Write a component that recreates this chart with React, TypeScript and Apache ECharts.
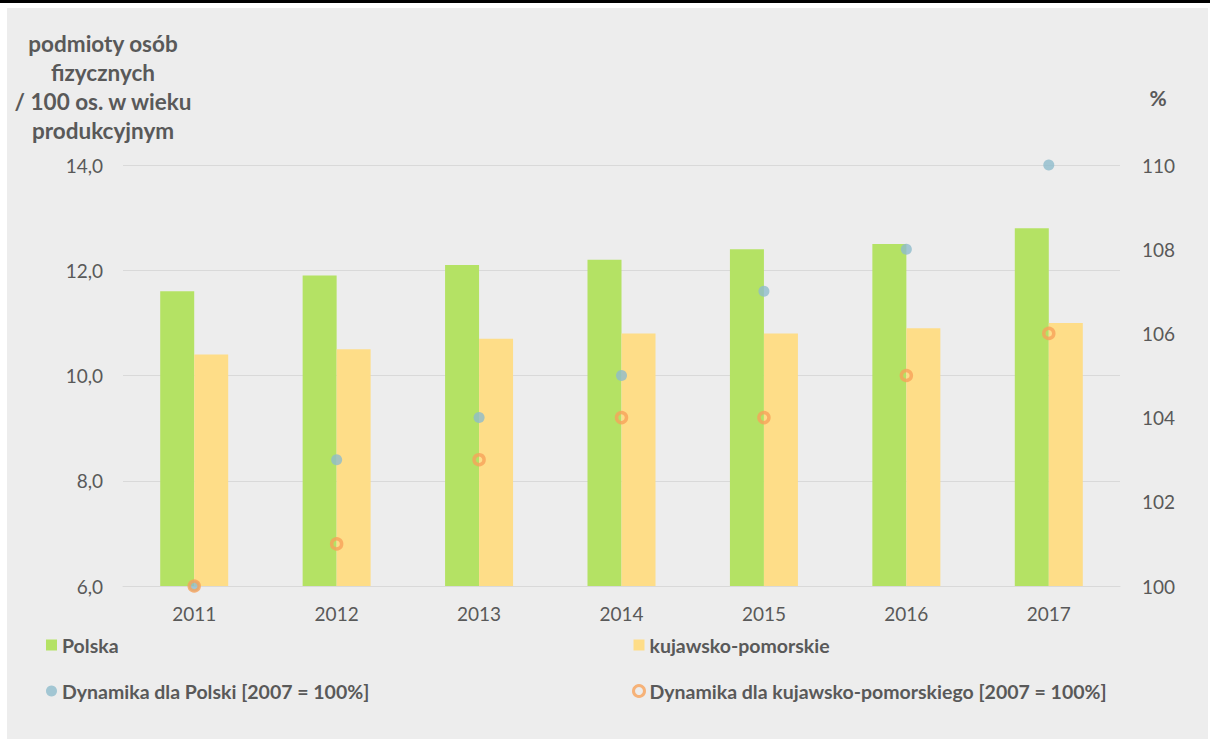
import React, { useEffect, useRef } from "react";
import * as echarts from "echarts";

const years = ["2011", "2012", "2013", "2014", "2015", "2016", "2017"];
const polska = [11.6, 11.9, 12.1, 12.2, 12.4, 12.5, 12.8];
const kujawsko = [10.4, 10.5, 10.7, 10.8, 10.8, 10.9, 11.0];
const dynPolska = [100, 103, 104, 105, 107, 108, 110];
const dynKujawsko = [100, 101, 103, 104, 104, 105, 106];

const names = [
  "Polska",
  "kujawsko-pomorskie",
  "Dynamika dla Polski [2007 = 100%]",
  "Dynamika dla kujawsko-pomorskiego [2007 = 100%]",
];

const FONT = "Lato";
const TEXT = "#595959";
const ORANGE = "#F8A35A";

export default function App() {
  const ref = useRef<HTMLDivElement>(null);
  useEffect(() => {
    document.body.style.margin = "0";
    const chart = echarts.init(ref.current!, null, { renderer: "svg" });
    const legendText = { fontFamily: FONT, fontSize: 19.5, fontWeight: "bold", color: TEXT };
    chart.setOption({
      animation: false,
      backgroundColor: "transparent",
      textStyle: { fontFamily: FONT, color: TEXT },
      grid: { left: 123, right: 90, top: 165, bottom: 153 },
      legend: [
        {
          data: [
            { name: names[0], icon: "rect" },
            { name: names[2], icon: "circle" },
          ],
          orient: "vertical",
          left: 46,
          top: 635,
          padding: 0,
          itemGap: 26,
          itemWidth: 11,
          itemHeight: 11,
          textStyle: legendText,
        },
        {
          data: [
            { name: names[1], icon: "rect" },
            {
              name: names[3],
              icon: "circle",
              itemStyle: { color: "rgba(0,0,0,0)", borderColor: ORANGE, borderWidth: 3 },
            },
          ],
          orient: "vertical",
          left: 632,
          top: 635,
          padding: 0,
          itemGap: 26,
          itemWidth: 11,
          itemHeight: 11,
          textStyle: legendText,
        },
      ],
      xAxis: {
        type: "category",
        data: years,
        axisLine: { lineStyle: { color: "#D9D9D9", width: 1 } },
        axisTick: { show: false },
        axisLabel: { fontFamily: FONT, fontSize: 19, color: TEXT, margin: 18 },
      },
      yAxis: [
        {
          type: "value",
          min: 6,
          max: 14,
          interval: 2,
          axisLabel: {
            fontFamily: FONT,
            fontSize: 19,
            color: TEXT,
            margin: 20,
            formatter: (v: number) => v.toFixed(1).replace(".", ","),
          },
          axisLine: { show: false },
          axisTick: { show: false },
          splitLine: { lineStyle: { color: "#D9D9D9", width: 1 } },
        },
        {
          type: "value",
          min: 100,
          max: 110,
          interval: 2,
          axisLabel: { fontFamily: FONT, fontSize: 19, color: TEXT, margin: 22 },
          axisLine: { show: false },
          axisTick: { show: false },
          splitLine: { show: false },
        },
      ],
      graphic: [
        {
          type: "text",
          x: 103,
          y: 29,
          style: {
            text: "podmioty osób\nfizycznych\n/ 100 os. w wieku\nprodukcyjnym",
            align: "center",
            verticalAlign: "top",
            lineHeight: 29,
            font: `bold 22.5px ${FONT}`,
            fill: TEXT,
          },
        },
        {
          type: "text",
          x: 1158,
          y: 97,
          style: {
            text: "%",
            align: "center",
            verticalAlign: "middle",
            font: `bold 21px ${FONT}`,
            fill: TEXT,
          },
        },
      ],
      series: [
        {
          name: names[0],
          type: "bar",
          data: polska,
          barWidth: 34,
          barGap: "0%",
          itemStyle: { color: "#B4E264" },
        },
        {
          name: names[1],
          type: "bar",
          data: kujawsko,
          barWidth: 34,
          barGap: "0%",
          itemStyle: { color: "#FEDD88" },
        },
        {
          name: names[2],
          type: "scatter",
          yAxisIndex: 1,
          data: dynPolska,
          symbol: "circle",
          symbolSize: 11,
          itemStyle: { color: "#8FBBCC" },
          z: 3,
        },
        {
          name: names[3],
          type: "scatter",
          yAxisIndex: 1,
          data: dynKujawsko,
          symbol: "circle",
          symbolSize: 10,
          itemStyle: { color: "rgba(0,0,0,0)", borderColor: ORANGE, borderWidth: 3.5 },
          z: 4,
        },
      ],
    });
    return () => chart.dispose();
  }, []);
  return (
    <div style={{ position: "relative", width: 1210, height: 739, background: "#FFFFFF", overflow: "hidden" }}>
      <div style={{ position: "absolute", left: 0, top: 0, width: 1210, height: 3, background: "#000000" }} />
      <div style={{ position: "absolute", left: 7, top: 8, width: 1201, height: 731, background: "#EDEDED" }} />
      <div ref={ref} style={{ position: "absolute", left: 0, top: 0, width: 1210, height: 739 }} />
    </div>
  );
}
